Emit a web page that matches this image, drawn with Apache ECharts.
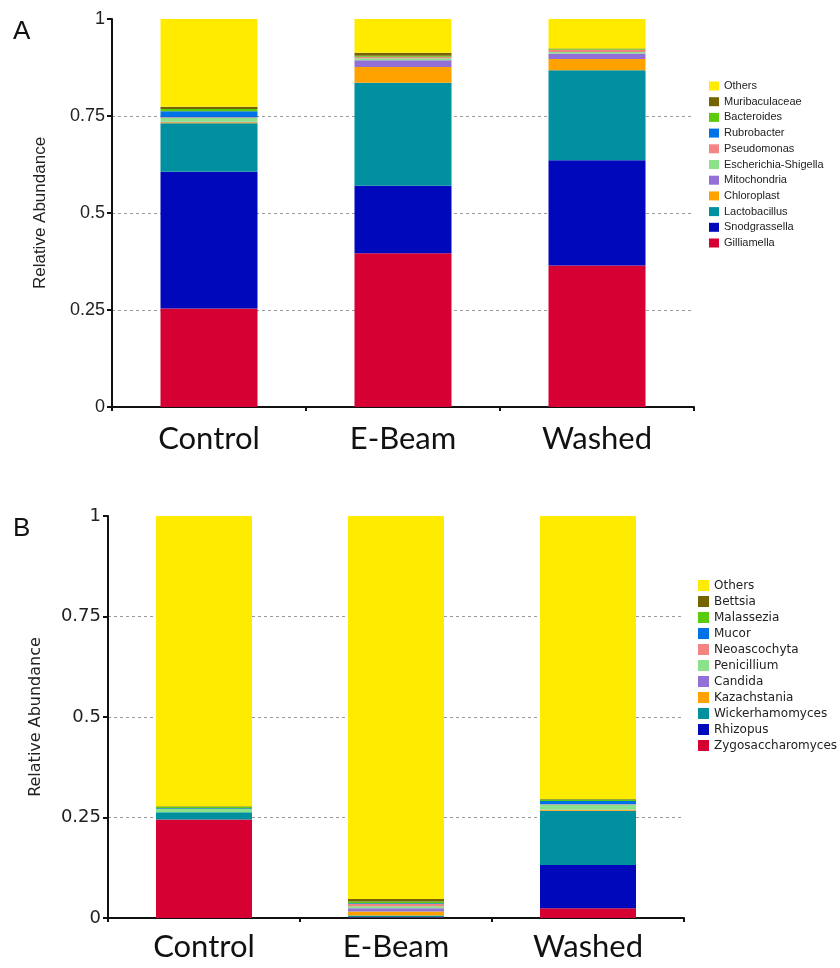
<!DOCTYPE html>
<html>
<head>
<meta charset="utf-8">
<script src="https://cdn.jsdelivr.net/npm/echarts@6/dist/echarts.min.js"></script>
<style>html,body{margin:0;padding:0;background:#fff;}#c{width:840px;height:968px;}</style>
</head>
<body>
<div id="c"></div>
<script>
// ---- data ----
const categories = ['Control', 'E-Beam', 'Washed'];
const yTicks = [0, 0.25, 0.5, 0.75, 1];

// Panel A (bacteria), bottom to top
const namesA = ['Gilliamella','Snodgrassella','Lactobacillus','Chloroplast','Mitochondria','Escherichia-Shigella','Pseudomonas','Rubrobacter','Bacteroides','Muribaculaceae','Others'];
const gilliamella    = [0.254, 0.396, 0.365];
const snodgrassella  = [0.352, 0.174, 0.271];
const lactobacillus  = [0.125, 0.266, 0.232];
const chloroplast    = [0.003, 0.040, 0.029];
const mitochondria   = [0.001, 0.018, 0.014];
const escherichia    = [0.010, 0.005, 0.004];
const pseudomonas    = [0.002, 0.003, 0.006];
const rubrobacter    = [0.015, 0.001, 0.000];
const bacteroides    = [0.006, 0.002, 0.002];
const muribaculaceae = [0.006, 0.008, 0.001];
const othersA        = [0.226, 0.087, 0.076];
const valuesA = [gilliamella, snodgrassella, lactobacillus, chloroplast, mitochondria, escherichia, pseudomonas, rubrobacter, bacteroides, muribaculaceae, othersA];

// Panel B (fungi), bottom to top
const namesB = ['Zygosaccharomyces','Rhizopus','Wickerhamomyces','Kazachstania','Candida','Penicillium','Neoascochyta','Mucor','Malassezia','Bettsia','Others'];
const zygosaccharomyces = [0.245, 0.001, 0.024];
const rhizopus          = [0.000, 0.001, 0.108];
const wickerhamomyces   = [0.018, 0.004, 0.135];
const kazachstania      = [0.000, 0.010, 0.002];
const candida           = [0.000, 0.008, 0.001];
const penicillium       = [0.008, 0.005, 0.012];
const neoascochyta      = [0.000, 0.006, 0.001];
const mucor             = [0.002, 0.002, 0.008];
const malassezia        = [0.004, 0.004, 0.004];
const bettsia           = [0.001, 0.006, 0.001];
const othersB           = [0.722, 0.953, 0.704];
const valuesB = [zygosaccharomyces, rhizopus, wickerhamomyces, kazachstania, candida, penicillium, neoascochyta, mucor, malassezia, bettsia, othersB];

// ---- styles ----
const palette = ['#D60032','#0008BC','#0090A0','#FFA200','#9270D6','#8BE28B','#F48484','#0072E8','#5CCB0A','#746400','#FFEB00'];

function yAxis(idx, font, size, name, nameSize, gap) {
  return {
    type: 'value', gridIndex: idx, min: 0, max: 1, interval: 0.25,
    name: name, nameLocation: 'middle', nameRotate: 90, nameGap: gap,
    nameTextStyle: { fontFamily: font, fontSize: nameSize, color: '#222' },
    axisLine: { show: true, lineStyle: { color: '#111', width: 2 } },
    axisTick: { show: true, length: 5, lineStyle: { color: '#111', width: 2 } },
    axisLabel: { fontFamily: font, fontSize: size, color: '#222', margin: 7 },
    splitLine: { show: true, showMinLine: false, showMaxLine: false,
      lineStyle: { color: '#9a9a9a', type: [3, 3], width: 1 } }
  };
}
function xAxis(idx, margin) {
  return {
    type: 'category', gridIndex: idx, data: categories,
    axisLine: { show: true, lineStyle: { color: '#111', width: 2 } },
    axisTick: { show: true, length: 4, lineStyle: { color: '#111', width: 2 } },
    axisLabel: { fontFamily: 'Lato', fontSize: 31, color: '#111', margin: margin }
  };
}
function makeSeries(names, values, idx) {
  return names.map((n, i) => ({
    name: n, type: 'bar', stack: 'p' + idx, xAxisIndex: idx, yAxisIndex: idx,
    barWidth: '50%', data: values[i], itemStyle: { color: palette[i] },
    emphasis: { disabled: true }
  }));
}

const chart = echarts.init(document.getElementById('c'), null, { renderer: 'canvas' });
chart.setOption({
  animation: false,
  backgroundColor: '#fff',
  title: [
    { text: 'A', left: 8, top: 14, textStyle: { fontFamily: 'Liberation Sans', fontSize: 26, fontWeight: 'normal', color: '#111' } },
    { text: 'B', left: 8, top: 511, textStyle: { fontFamily: 'Liberation Sans', fontSize: 26, fontWeight: 'normal', color: '#111' } }
  ],
  grid: [
    { left: 112, top: 19, width: 582, height: 388 },
    { left: 108, top: 516, width: 576, height: 402 }
  ],
  xAxis: [xAxis(0, 16), xAxis(1, 13)],
  yAxis: [
    yAxis(0, 'Liberation Sans', 18, 'Relative Abundance', 17, 63),
    yAxis(1, 'DejaVu Sans', 18, 'Relative Abundance', 16, 64)
  ],
  legend: [
    { orient: 'vertical', left: 709, top: 80, padding: 0, itemWidth: 10, itemHeight: 9, itemGap: 3.7,
      icon: 'rect', data: namesA.slice().reverse(), selectedMode: false,
      textStyle: { fontFamily: 'Liberation Sans', fontSize: 11, color: '#222', lineHeight: 12 } },
    { orient: 'vertical', left: 698, top: 579, padding: 0, itemWidth: 11, itemHeight: 11, itemGap: 3,
      icon: 'rect', data: namesB.slice().reverse(), selectedMode: false,
      textStyle: { fontFamily: 'DejaVu Sans', fontSize: 12, color: '#222', lineHeight: 13 } }
  ],
  series: makeSeries(namesA, valuesA, 0).concat(makeSeries(namesB, valuesB, 1))
});
</script>
</body>
</html>
